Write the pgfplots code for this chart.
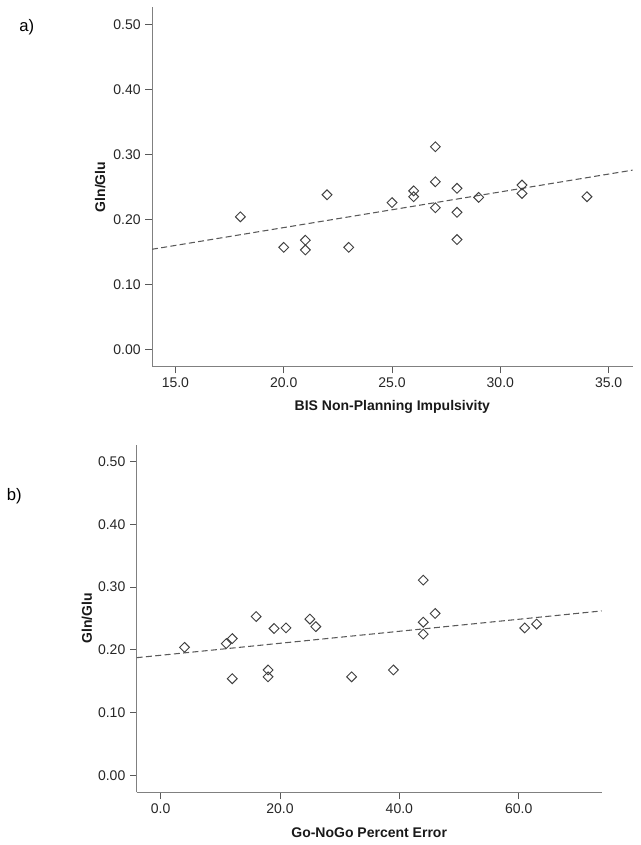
\documentclass[border=0pt]{standalone}
\usepackage{fontspec}
\setmainfont{Liberation Sans}
\usepackage{pgfplots}
\pgfplotsset{compat=1.18}
\pgfplotsset{spss/.style={
  scale only axis,
  axis x line*=bottom, axis y line*=left,
  axis line style={black!50, line width=0.65pt},
  tick style={black!65, line width=0.65pt},
  tick align=outside, major tick length=5pt,
  ymin=-0.027, ymax=0.527,
  ytick={0,0.1,0.2,0.3,0.4,0.5},
  yticklabel style={/pgf/number format/.cd, fixed, fixed zerofill, precision=2},
  xticklabel style={/pgf/number format/.cd, fixed, fixed zerofill, precision=1},
  ticklabel style={font=\fontsize{10.5}{12}\selectfont, black!85},
  label style={font=\bfseries\fontsize{10.5}{12}\selectfont, black!90},
  /pgf/number format/assume math mode=true,
  ylabel=Gln/Glu,
}}
\begin{document}
\begin{tikzpicture}
\path[use as bounding box] (0,0) rectangle (480.75pt,633.75pt);
\node[font=\fontsize{12.5}{14}\selectfont] at (20pt,613.7pt) {a)};
\node[font=\fontsize{12.5}{14}\selectfont] at (10.7pt,261.75pt) {b)};
\begin{axis}[spss,
  at={(114pt,358.7pt)}, anchor=south west,
  width=360.5pt, height=269.6pt,
  xmin=13.92, xmax=36.11,
  xtick={15,20,25,30,35},
  xlabel={BIS Non-Planning Impulsivity},
  x label style={at={(axis description cs:0.5,-0.111)}, anchor=center},
  y label style={at={(axis description cs:-0.108,0.5)}, anchor=center},
]
\addplot[black!65, dash pattern=on 4.5pt off 2.5pt, line width=0.8pt] coordinates {(13.92,0.154) (36.11,0.276)};
\addplot[only marks, mark=square, mark size=2.6pt,
  mark options={rotate=45, draw=black!75, fill=white, line width=0.7pt}]
coordinates {
(18,0.204) (20,0.157) (21,0.168) (21,0.153) (22,0.238) (23,0.157)
(25,0.226) (26,0.244) (26,0.235) (27,0.312) (27,0.258) (27,0.218)
(28,0.248) (28,0.211) (28,0.169) (29,0.234) (31,0.253) (31,0.240)
(34,0.235)
};
\end{axis}
\begin{axis}[spss,
  at={(102.5pt,39.5pt)}, anchor=south west,
  width=348.75pt, height=260.8pt,
  xmin=-4.02, xmax=73.9,
  xtick={0,20,40,60},
  xlabel={Go-NoGo Percent Error},
  x label style={at={(axis description cs:0.5,-0.115)}, anchor=center},
  y label style={at={(axis description cs:-0.107,0.5)}, anchor=center},
]
\addplot[black!65, dash pattern=on 4.5pt off 2.5pt, line width=0.8pt] coordinates {(-4.02,0.1875) (73.9,0.262)};
\addplot[only marks, mark=square, mark size=2.6pt,
  mark options={rotate=45, draw=black!75, fill=white, line width=0.7pt}]
coordinates {
(4,0.204) (11,0.210) (12,0.218) (12,0.154) (16,0.253) (18,0.168)
(18,0.157) (19,0.234) (21,0.235) (25,0.249) (26,0.237) (32,0.157)
(39,0.168) (44,0.311) (44,0.244) (44,0.225) (46,0.258) (61,0.235)
(63,0.241)
};
\end{axis}
\end{tikzpicture}
\end{document}
